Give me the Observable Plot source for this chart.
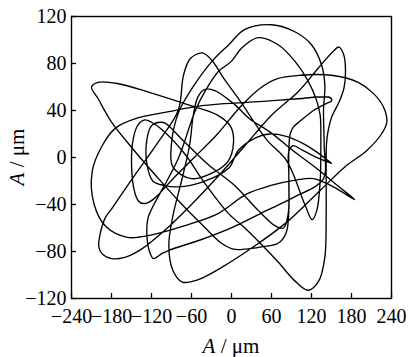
<!DOCTYPE html>
<html><head><meta charset="utf-8">
<script src="https://cdn.jsdelivr.net/npm/d3@7"></script>
<script src="https://cdn.jsdelivr.net/npm/@observablehq/plot@0.6"></script>
<style>body{margin:0;background:#fff}</style>
</head><body><div id="chart"></div>
<script>
const xTicks = [-240,-180,-120,-60,0,60,120,180,240];
const yTicks = [-120,-80,-40,0,40,80,120];
// orbit, in pieces (x µm, y µm)
const segA = [[150,-5],[127,5],[107,12],[82,18],[57,20],[37,17],[10,6],[-4,-9],[-44,-21],[-80,-25],[-100,-24],[-118,-20],[-127,-5],[-127,15],[-120,27],[-106,30],[-99,29],[-70,13],[-35,-6],[5,-24],[40,-45],[65,-58],[78,-60],[85,-48],[86,-20],[86,5],[88,20],[93,26],[103,31],[123,40],[146,47],[150,48]];
const segB = [[148,51],[100,50],[53,48],[-46,44],[-94,39],[-144,33],[-174,25],[-194,10],[-209,-12],[-206,-40],[-188,-59],[-156,-68],[-121,-66],[-70,-58],[-21,-48],[23,-31],[58,-24],[98,-19],[123,-18],[153,-25],[185,-36]];
const segC = [[157,-23],[127,-9],[92,6],[57,22],[27,33],[5,45],[-25,57],[-40,58],[-50,52],[-57,37],[-63,10],[-75,-20],[-88,-50],[-94,-75],[-88,-96],[-74,-106],[-50,-104],[-16,-94],[33,-76],[83,-55],[133,-28],[170,-8],[203,6],[225,20],[233,30],[228,43],[212,55],[190,64],[150,70],[103,70],[68,67],[43,59],[13,43],[-21,20],[-56,0],[-86,-17],[-116,-35],[-128,-39],[-138,-38],[-145,-30],[-150,-5],[-147,17],[-140,28],[-130,32],[-120,30],[-105,24],[-70,3],[-40,-22],[-4,-48],[20,-60],[45,-74],[70,-89],[95,-105],[115,-113],[131,-105],[140,-85],[142,-50],[142,-10],[143,15],[150,34],[162,48],[169,60],[171,75],[168,88],[161,94]];
const segD = [[152,90],[130,76],[100,56],[60,36],[20,10],[-20,-16],[-60,-40],[-100,-62],[-135,-78],[-160,-85],[-180,-86],[-194,-82],[-199,-76],[-197,-65],[-189,-51],[-179,-43],[-145,-15],[-110,13],[-80,40],[-72,70],[-62,84],[-44,89],[-30,83],[-10,66],[13,48],[53,15],[83,-3],[110,-40],[121,-53],[128,-45],[133,-20],[134,10],[133,36],[128,48],[115,65],[95,82],[70,96],[40,102],[15,93],[0,82],[-20,73],[-40,56],[-55,39],[-80,-1],[-119,-43],[-125,-51],[-127,-65],[-123,-80],[-117,-86],[-105,-82],[-94,-79],[-46,-70],[3,-59],[53,-45],[93,-34],[138,-18]];
const segE = [[139,10],[138,40],[140,62],[135,79],[120,96],[95,107],[60,113],[20,109],[-4,96],[-29,82],[-59,59],[-79,39],[-90,12],[-88,-8],[-60,-18],[-25,-12],[-5,-3]];
const segF = [[3,12],[-1,26],[-21,36],[-66,45],[-121,55],[-171,63],[-200,64],[-210,60],[-200,50],[-181,31],[-146,6],[-111,-17],[-76,-39],[-41,-59],[-15,-73],[3,-78],[20,-78],[45,-76],[70,-73],[82,-64],[86,-45],[86,-15],[86,5],[92,10],[107,6],[132,-1],[150,-5]];
const orbit = [...segA, ...segB, ...segC, ...segD, ...segE, ...segF];

const font = "'Liberation Serif','Times New Roman',serif";
const chart = Plot.plot({
  width: 410, height: 357,
  marginLeft: 71, marginRight: 19, marginTop: 16, marginBottom: 59,
  style: {fontFamily: font, fontSize: "20px", color: "#000", background: "#fff"},
  x: {domain: [-240, 240]},
  y: {domain: [-120, 120]},
  marks: [
    Plot.frame({stroke: "#000", strokeWidth: 1.4}),
    Plot.axisX(xTicks, {tickSize: 0, tickPadding: 10, fontSize: 20, label: null}),
    Plot.axisX(xTicks, {tickSize: -5, text: null, label: null, strokeWidth: 1.3}),
    Plot.axisY(yTicks, {tickSize: 0, tickPadding: 5, fontSize: 20, label: null}),
    Plot.axisY(yTicks, {tickSize: -5, text: null, label: null, strokeWidth: 1.3}),
    Plot.line(orbit, {x: d => d[0], y: d => d[1], curve: "catmull-rom", stroke: "#000", strokeWidth: 1.35})
  ]
});
const svg = d3.select(chart);
svg.append("text").attr("x", 231).attr("y", 353).attr("text-anchor", "middle")
  .style("font-family", font).style("font-size", "21px")
  .html('<tspan font-style="italic">A</tspan> / μm');
svg.append("text").attr("transform", "translate(24,157) rotate(-90)").attr("text-anchor", "middle")
  .style("font-family", font).style("font-size", "21px")
  .html('<tspan font-style="italic">A</tspan> / μm');
document.getElementById("chart").appendChild(chart);
</script></body></html>
